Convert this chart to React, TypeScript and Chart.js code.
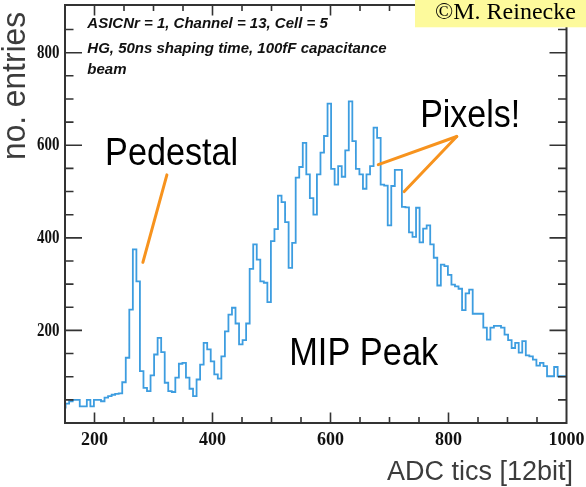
import React, { useEffect, useRef } from 'react';
import { Chart, registerables } from 'chart.js';

Chart.register(...registerables);

// Histogram binning (ADC tics)
const BIN_START = 145;
const BIN_WIDTH = 6;

// Entries per bin
const COUNTS = [
  25, 33, 42, 47, 50, 50, 36, 36, 50, 36,
  50, 50, 47, 55, 58, 61, 63, 64, 88, 141,
  245, 375, 306, 112, 76, 69, 103, 148, 184, 153,
  87, 69, 67, 98, 128, 130, 98, 74, 58, 94,
  126, 173, 159, 133, 105, 96, 144, 198, 234, 249,
  215, 170, 179, 215, 333, 386, 353, 306, 303, 261,
  393, 419, 491, 477, 434, 335, 389, 530, 553, 605,
  537, 486, 450, 537, 584, 620, 690, 549, 515, 555,
  532, 589, 695, 609, 549, 537, 506, 537, 555, 638,
  616, 515, 513, 427, 512, 547, 547, 467, 466, 412,
  402, 465, 390, 420, 427, 386, 357, 297, 342, 339,
  320, 299, 295, 290, 244, 280, 288, 236, 236, 236,
  206, 180, 206, 210, 210, 206, 191, 179, 162, 173,
  152, 177, 146, 144, 137, 124, 130, 123, 101, 101,
  121, 101, 101,
];

const X_MIN = 150;
const X_MAX = 1000;
const Y_MIN = 0;
const Y_MAX = 903;
const X_LABELS = [200, 400, 600, 800, 1000];
const Y_LABELS = [200, 400, 600, 800];
const X_TICK_STEP = 50;
const Y_TICK_STEP = 50;

const X_TITLE = 'ADC tics [12bit]';
const Y_TITLE = 'no. entries';
const INFO_LINES = [
  'ASICNr = 1, Channel = 13, Cell = 5',
  'HG, 50ns shaping time, 100fF capacitance',
  'beam',
];
const COPYRIGHT = '©M. Reinecke';

// Annotation labels in data coordinates
const LABEL_TEXTS = ['Pedestal', 'Pixels!', 'MIP Peak'];
const LABEL_X = [218, 752, 530];
const LABEL_Y = [558, 639, 126];
const LABEL_W = [133, 100, 149];

// Pointer lines (data coordinates): [x1, y1, x2, y2]
const POINTERS = [
  [322.7, 536, 282, 347],
  [814, 619, 681, 558],
  [814, 619, 725, 500],
];

const decorPlugin = {
  id: 'decor',
  afterDraw(chart: any) {
    const { ctx, chartArea: a, scales } = chart;
    const xs = scales.x;
    const ys = scales.y;
    ctx.save();

    // frame
    ctx.strokeStyle = '#333';
    ctx.lineWidth = 2;
    ctx.strokeRect(a.left, a.top, a.right - a.left, a.bottom - a.top);

    // ticks
    ctx.lineWidth = 1.6;
    ctx.beginPath();
    for (let v = X_MIN; v <= X_MAX; v += X_TICK_STEP) {
      const px = xs.getPixelForValue(v);
      if (px < a.left + 2 || px > a.right - 2) continue;
      const len = v % 200 === 0 ? 10.5 : 6;
      ctx.moveTo(px, a.bottom);
      ctx.lineTo(px, a.bottom - len);
      ctx.moveTo(px, a.top);
      ctx.lineTo(px, a.top + len);
    }
    for (let v = Y_TICK_STEP; v <= Y_MAX; v += Y_TICK_STEP) {
      const py = ys.getPixelForValue(v);
      if (py < a.top + 3 || py > a.bottom - 2) continue;
      const len = v % 200 === 0 ? 17 : 8.5;
      ctx.moveTo(a.left, py);
      ctx.lineTo(a.left + len, py);
      ctx.moveTo(a.right, py);
      ctx.lineTo(a.right - len, py);
    }
    ctx.stroke();

    // tick labels
    ctx.fillStyle = '#111';
    ctx.font = 'bold 18px "Liberation Serif"';
    ctx.textAlign = 'center';
    ctx.textBaseline = 'middle';
    X_LABELS.forEach((v) => {
      ctx.fillText(String(v), xs.getPixelForValue(v), 440.5);
    });
    ctx.textAlign = 'right';
    Y_LABELS.forEach((v) => {
      ctx.save();
      ctx.translate(59.5, ys.getPixelForValue(v) + 0.5);
      ctx.scale(0.83, 1);
      ctx.fillText(String(v), 0, 0);
      ctx.restore();
    });

    // axis titles
    ctx.fillStyle = '#3c3c3c';
    ctx.textBaseline = 'alphabetic';
    ctx.font = '27px "Liberation Sans"';
    ctx.textAlign = 'right';
    ctx.fillText(X_TITLE, 573, 480);
    ctx.save();
    ctx.translate(25, 86);
    ctx.rotate(-Math.PI / 2);
    ctx.textAlign = 'center';
    ctx.font = '34px "Liberation Sans"';
    ctx.fillText(Y_TITLE, 0, 0, 148);
    ctx.restore();

    // info text
    ctx.fillStyle = '#111';
    ctx.textAlign = 'left';
    ctx.font = 'italic bold 15px "Liberation Sans"';
    const infoY = [28.3, 52.7, 74];
    INFO_LINES.forEach((t, i) => ctx.fillText(t, 87.3, infoY[i]));

    // pointer lines
    ctx.strokeStyle = '#f7931e';
    ctx.lineWidth = 3;
    ctx.lineCap = 'round';
    POINTERS.forEach(([x1, y1, x2, y2]) => {
      ctx.beginPath();
      ctx.moveTo(xs.getPixelForValue(x1), ys.getPixelForValue(y1));
      ctx.lineTo(xs.getPixelForValue(x2), ys.getPixelForValue(y2));
      ctx.stroke();
    });

    // annotation labels
    ctx.fillStyle = '#000';
    ctx.font = '38px "Liberation Sans"';
    LABEL_TEXTS.forEach((t, i) => {
      ctx.fillText(t, xs.getPixelForValue(LABEL_X[i]), ys.getPixelForValue(LABEL_Y[i]), LABEL_W[i]);
    });

    // copyright box
    ctx.fillStyle = '#fdfa9c';
    ctx.fillRect(415, 0, 171, 27.3);
    ctx.fillStyle = '#000';
    ctx.font = '24px "Liberation Serif"';
    ctx.fillText(COPYRIGHT, 435, 18.5);

    ctx.restore();
  },
};

export default function App() {
  const ref = useRef<HTMLCanvasElement>(null);

  useEffect(() => {
    if (!ref.current) return;
    const points = COUNTS.map((c, k) => ({ x: BIN_START + BIN_WIDTH * k, y: c }));
    points.push({ x: BIN_START + BIN_WIDTH * COUNTS.length, y: COUNTS[COUNTS.length - 1] });

    const chart = new Chart(ref.current, {
      type: 'line',
      data: {
        datasets: [
          {
            data: points,
            stepped: 'after',
            borderColor: '#3d9de0',
            borderWidth: 1.8,
            pointRadius: 0,
            fill: false,
            clip: 0,
          } as any,
        ],
      },
      options: {
        responsive: false,
        animation: false,
        devicePixelRatio: 1,
        layout: { padding: { left: 65, right: 19.5, top: 5, bottom: 64 } },
        scales: {
          x: { type: 'linear', min: X_MIN, max: X_MAX, display: false },
          y: { type: 'linear', min: Y_MIN, max: Y_MAX, display: false },
        },
        plugins: { legend: { display: false }, tooltip: { enabled: false } },
      },
      plugins: [decorPlugin],
    });
    return () => chart.destroy();
  }, []);

  return (
    <div style={{ position: 'fixed', left: 0, top: 0, width: 586, height: 487, background: '#fff' }}>
      <canvas ref={ref} width={586} height={487} />
    </div>
  );
}
